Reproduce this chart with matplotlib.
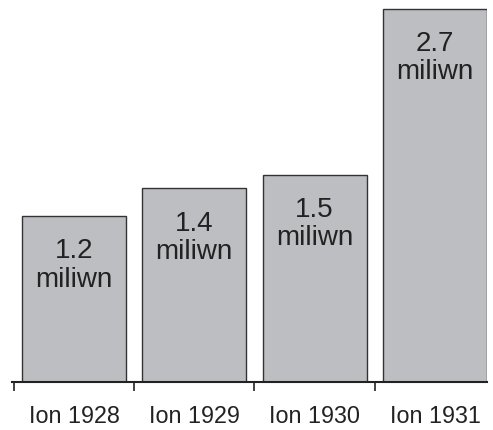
import matplotlib
matplotlib.use("Agg")
import matplotlib.pyplot as plt
from matplotlib.ticker import FixedLocator

categories = ["Ion 1928", "Ion 1929", "Ion 1930", "Ion 1931"]
values = [1.2, 1.4, 1.5, 2.7]
labels = ["1.2\nmiliwn", "1.4\nmiliwn", "1.5\nmiliwn", "2.7\nmiliwn"]

plt.rcParams['font.family'] = ['Liberation Sans', 'DejaVu Sans']

W, H = 493, 430
fig = plt.figure(figsize=(W/100, H/100), dpi=100)
ax = fig.add_axes([12/W, (H-382)/H, (487-12)/W, 382/H])

x = list(range(len(categories)))
ax.bar(x, values, width=0.864, color="#bdbec1", edgecolor="#333333", linewidth=1.0, zorder=2)

for xi, v, lab in zip(x, values, labels):
    ax.annotate(lab, xy=(xi, v), xytext=(0, -16), textcoords="offset points",
                ha="center", va="top", fontsize=20, color="#222222",
                linespacing=1.12)

ax.set_xlim(-0.515, 3.432)
ax.set_ylim(0, 2.762)

for s in ["top", "left", "right"]:
    ax.spines[s].set_visible(False)
ax.spines["bottom"].set_linewidth(1.5)
ax.spines["bottom"].set_color("#222222")

ax.set_yticks([])
ax.xaxis.set_major_locator(FixedLocator([-0.5, 0.5, 1.5, 2.5, 3.5]))
ax.xaxis.set_minor_locator(FixedLocator(x))
ax.set_xticklabels([])
ax.set_xticklabels(categories, minor=True)
ax.tick_params(axis="x", which="major", direction="out", length=6.5, width=1.2, color="#222222")
ax.tick_params(axis="x", which="minor", length=0, pad=16.5, labelsize=16.8, labelcolor="#222222")

fig.savefig("out.png", dpi=100)
